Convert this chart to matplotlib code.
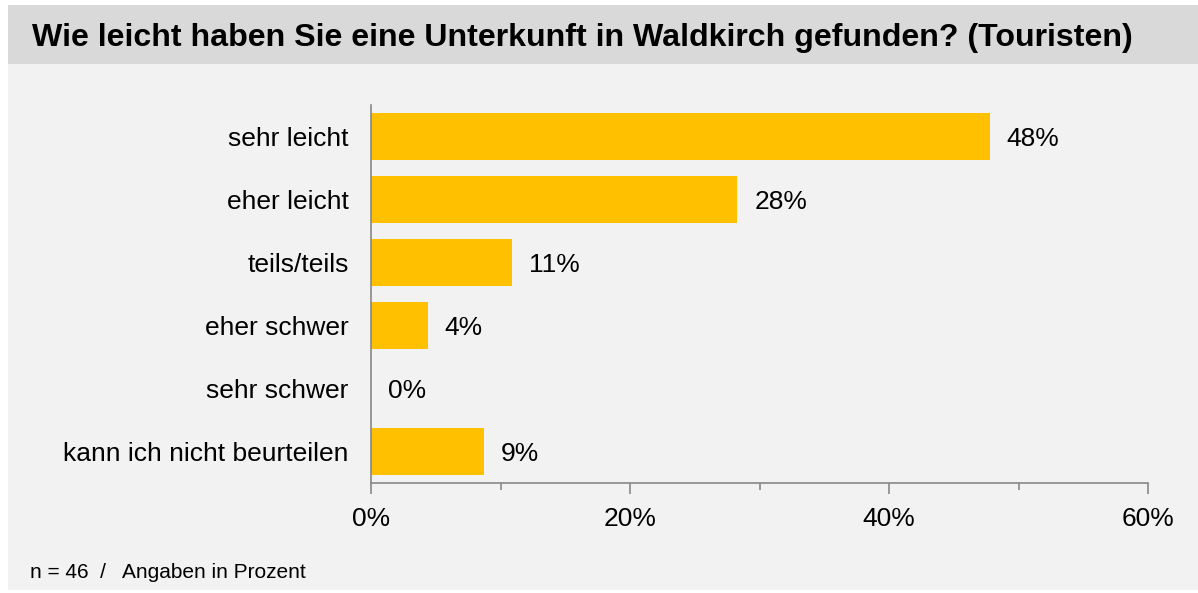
import matplotlib.pyplot as plt
from matplotlib.patches import Rectangle
from matplotlib.ticker import MultipleLocator, FuncFormatter

# Antworten und Anteile (in Prozent)
categories = ['sehr leicht', 'eher leicht', 'teils/teils', 'eher schwer',
              'sehr schwer', 'kann ich nicht beurteilen']
values = [47.8, 28.3, 10.9, 4.4, 0.0, 8.7]
labels = ['48%', '28%', '11%', '4%', '0%', '9%']

title = 'Wie leicht haben Sie eine Unterkunft in Waldkirch gefunden? (Touristen)'
note = 'n = 46  /   Angaben in Prozent'

plt.rcParams['font.family'] = ['Liberation Sans', 'DejaVu Sans']

fig = plt.figure(figsize=(11.98, 5.93), dpi=100)
fig.patch.set_facecolor('white')

# Hintergrund und Titelbalken
fig.add_artist(Rectangle((8 / 1198, 3 / 593), 1 - 8 / 1198, (590 - 64) / 593,
                         transform=fig.transFigure, facecolor='#f2f2f2',
                         edgecolor='none', zorder=-2))
fig.add_artist(Rectangle((8 / 1198, (593 - 64) / 593), 1 - 8 / 1198, 59 / 593,
                         transform=fig.transFigure, facecolor='#d9d9d9',
                         edgecolor='none', zorder=-2))
fig.text(32 / 1198, (593 - 38) / 593, title, fontsize=23.15, fontweight='bold',
         va='center', ha='left')
fig.text(30 / 1198, (593 - 572) / 593, note, fontsize=15, va='center', ha='left')

ax = fig.add_axes([371 / 1198, 110 / 593, 777 / 1198, 378 / 593])
ax.set_facecolor('none')
ax.set_zorder(2)

y = range(len(categories))
ax.barh(y, values, height=0.76, color='#ffc000', zorder=2)
for i, v in enumerate(values):
    ax.text(v + 1.3, i, labels[i], va='center_baseline', ha='left', fontsize=19)

ax.set_xlim(0, 60)
ax.set_ylim(len(categories) - 0.5, -0.5)
ax.set_yticks(list(y))
ax.set_yticklabels(categories, fontsize=19, va='center_baseline')
ax.tick_params(axis='y', length=0, pad=16)

ax.xaxis.set_major_locator(MultipleLocator(20))
ax.xaxis.set_minor_locator(MultipleLocator(10))
ax.xaxis.set_major_formatter(FuncFormatter(lambda x, p: f'{x:.0f}%'))
ax.tick_params(axis='x', which='major', length=8, width=1.2, color='#888888',
               labelsize=19, pad=9)
ax.tick_params(axis='x', which='minor', length=5, width=1.2, color='#888888')

for s in ['top', 'right']:
    ax.spines[s].set_visible(False)
for s in ['left', 'bottom']:
    ax.spines[s].set_color('#888888')
    ax.spines[s].set_linewidth(1.2)

plt.savefig('out.png', dpi=100, facecolor=fig.get_facecolor())
